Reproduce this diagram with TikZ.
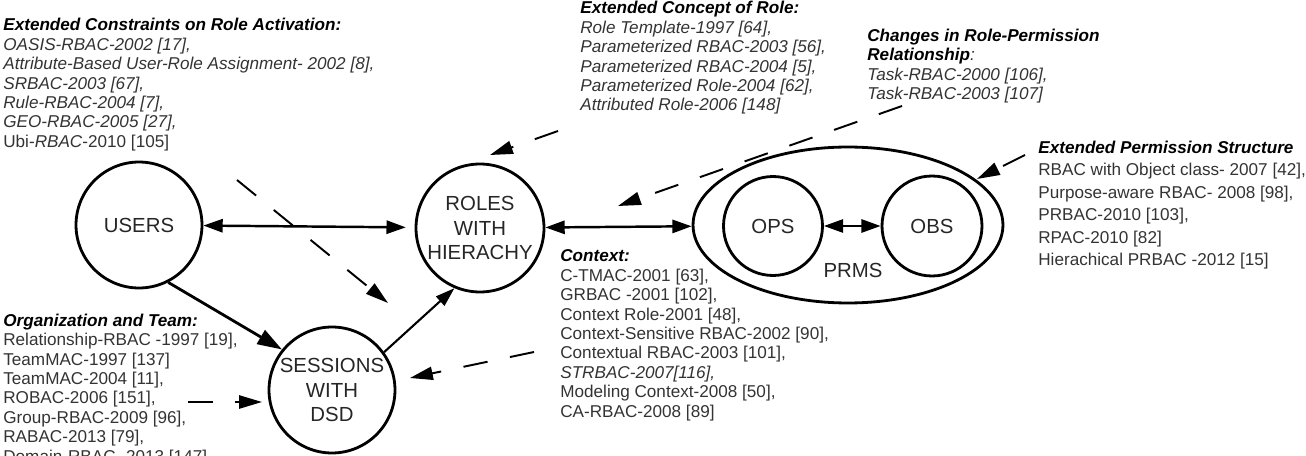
\documentclass[tikz,border=0pt]{standalone}
\usepackage{fontspec}
\setmainfont{Liberation Sans}
\usetikzlibrary{arrows.meta,shapes.geometric}
\tikzset{
  ent/.style={draw, circle, line width=1.6pt, inner sep=0pt, align=center, text=black!85,
    font=\fontsize{11.6}{13.8}\selectfont},
  cite/.style={anchor=north west, inner sep=0pt, align=left, text=black!80,
    font=\fontsize{9.75}{11.05}\selectfont},
  link/.style={line width=1.6pt, -{Triangle[length=14pt, width=9pt]}},
  linkthin/.style={line width=1.2pt, -{Triangle[length=11pt, width=7pt]}},
  twoway/.style={line width=1.4pt, {Triangle[length=11pt, width=7.5pt]}-{Triangle[length=11pt, width=7.5pt]}},
  hint/.style={line width=1.1pt, dash pattern=on 14pt off 13pt, -{Triangle[length=13pt, width=7.5pt]}},
}
\newcommand{\hd}[1]{\textcolor{black}{\textbf{\textit{#1}}}}

\begin{document}
\begin{tikzpicture}[x=0.02cm, y=-0.02cm]
    \useasboundingbox (0,0) rectangle (1306,456);
    % entities
    \node[ent, minimum size=2.52cm] (users) at (139,225) {USERS};
    \node[ent, minimum size=2.56cm] (roles) at (480,228) {ROLES\\WITH\\HIERACHY};
    \node[ent, minimum size=2.52cm] (sessions) at (332,390) {SESSIONS\\WITH\\DSD};
    \node[ent, ellipse, minimum width=6.2cm, minimum height=3.12cm] (prms) at (848,225) {};
    \node[ent, minimum size=1.98cm] (ops) at (773,226) {OPS};
    \node[ent, minimum size=2.0cm] (obs) at (932,226) {OBS};
    \node[font=\fontsize{11.6}{13.8}\selectfont, text=black!85] (prmslabel) at (853,270) {PRMS};
    % relations
    \draw[twoway, shorten >=5pt] (users) -- (roles);
    \draw[twoway] (roles) -- (prms);
    \draw[twoway] (ops) -- (obs);
    \draw[link] (users.-63) -- (sessions.141);
    \draw[linkthin] (sessions.36) -- (roles.-113);
    % literature blocks
    \node[cite] (constraints) at (3,18) {\hd{Extended Constraints on Role Activation:}\\
      \textit{OASIS-RBAC-2002 [17],}\\
      \textit{Attribute-Based User-Role Assignment- 2002 [8],}\\
      \textit{SRBAC-2003 [67],}\\
      \textit{Rule-RBAC-2004 [7],}\\
      \textit{GEO-RBAC-2005 [27],}\\
      Ubi-\textit{RBAC}-2010 [105]};
    \node[cite] (concept) at (580,1) {\hd{Extended Concept of Role:}\\
      \textit{Role Template-1997 [64],}\\
      \textit{Parameterized RBAC-2003 [56],}\\
      \textit{Parameterized RBAC-2004 [5],}\\
      \textit{Parameterized Role-2004 [62],}\\
      \textit{Attributed Role-2006 [148]}};
    \node[cite] (changes) at (867,28.5) {\hd{Changes in Role-Permission}\\
      \hd{Relationship}\textit{:}\\
      \textit{Task-RBAC-2000 [106],}\\
      \textit{Task-RBAC-2003 [107]}};
    \node[cite, font=\fontsize{9.75}{12.8}\selectfont] (permission) at (1038,140.5) {\hd{Extended Permission Structure}\\
      RBAC with Object class- 2007 [42],\\
      Purpose-aware RBAC- 2008 [98],\\
      PRBAC-2010 [103],\\
      RPAC-2010 [82]\\
      Hierachical PRBAC -2012 [15]};
    \node[cite] (context) at (560,249.5) {\hd{Context:}\\
      C-TMAC-2001 [63],\\
      GRBAC -2001 [102],\\
      Context Role-2001 [48],\\
      Context-Sensitive RBAC-2002 [90],\\
      Contextual RBAC-2003 [101],\\
      \textit{STRBAC-2007[116],}\\
      Modeling Context-2008 [50],\\
      CA-RBAC-2008 [89]};
    \node[cite] (team) at (3,313.5) {\hd{Organization and Team:}\\
      Relationship-RBAC -1997 [19],\\
      TeamMAC-1997 [137]\\
      TeamMAC-2004 [11],\\
      ROBAC-2006 [151],\\
      Group-RBAC-2009 [96],\\
      RABAC-2013 [79],\\
      Domain-RBAC -2013 [147]};
    % influence arrows
    \coordinate (k1s) at (237,180); \coordinate (k1e) at (388,303);
    \coordinate (k2s) at (558,131); \coordinate (k2e) at (490,155);
    \coordinate (k3s) at (902,106); \coordinate (k3e) at (618,206);
    \coordinate (k4s) at (1025,155); \coordinate (k4e) at (977,179);
    \coordinate (k5s) at (534,352); \coordinate (k5e) at (410,378);
    \coordinate (k6s) at (188,402); \coordinate (k6e) at (262,402);
    \draw[hint] (k1s) -- (k1e);
    \draw[hint] (k2s) -- (k2e);
    \draw[hint] (k3s) -- (k3e);
    \draw[hint] (k4s) -- (k4e);
    \draw[hint] (k5s) -- (k5e);
    \draw[hint] (k6s) -- (k6e);
  \end{tikzpicture}
\end{document}
